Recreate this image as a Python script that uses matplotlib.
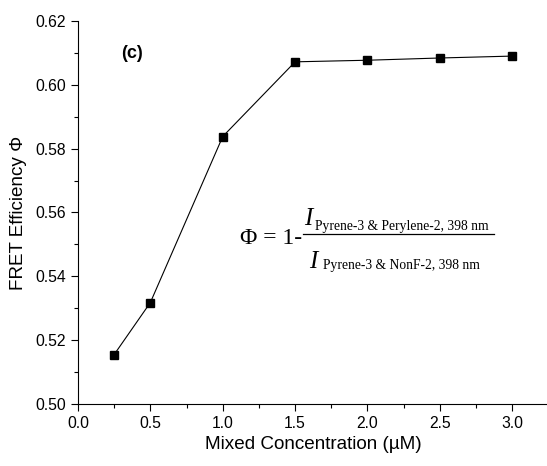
import matplotlib.pyplot as plt
from matplotlib.ticker import MultipleLocator

# FRET efficiency vs mixed concentration
conc = [0.25, 0.5, 1.0, 1.5, 2.0, 2.5, 3.0]
phi = [0.5155, 0.5318, 0.5838, 0.6072, 0.6077, 0.6084, 0.6090]

plt.rcParams['font.family'] = ['Liberation Sans', 'DejaVu Sans']

fig = plt.figure(figsize=(5.47, 4.66), dpi=100)
ax = fig.add_axes([0.1426, 0.133, 0.86, 0.822])

ax.plot(conc, phi, color='black', lw=0.8, marker='s', ms=5.2, mfc='black')

ax.set_xlim(0, 3.25)
ax.set_ylim(0.50, 0.62)
ax.xaxis.set_major_locator(MultipleLocator(0.5))
ax.xaxis.set_minor_locator(MultipleLocator(0.25))
ax.yaxis.set_major_locator(MultipleLocator(0.02))
ax.yaxis.set_minor_locator(MultipleLocator(0.01))
ax.xaxis.set_major_formatter(lambda v, p: f'{v:.1f}')
ax.yaxis.set_major_formatter(lambda v, p: f'{v:.2f}')
ax.tick_params(which='major', direction='out', length=5, width=0.8, labelsize=11.3)
ax.tick_params(which='minor', direction='out', length=3, width=0.8)
ax.spines['top'].set_visible(False)
ax.spines['right'].set_visible(False)

ax.set_xlabel('Mixed Concentration (\u00b5M)', fontsize=13.6)
ax.set_ylabel('FRET Efficiency \u03a6', fontsize=13.6, labelpad=6)

ax.text(0.092, 0.916, '(c)', transform=ax.transAxes, fontsize=13, fontweight='bold',
        ha='left', va='center')

# equation drawn in figure pixel coordinates
W, H = 547, 466
def px(x, y):
    return x / W, 1 - y / H

serif = 'Liberation Serif'
fig.text(*px(240, 238), '\u03a6 = 1-', family=serif, fontsize=17, va='center', ha='left')
fig.add_artist(plt.Line2D([303 / W, 494 / W], [1 - 234 / H, 1 - 234 / H],
                          color='black', lw=0.9, transform=fig.transFigure))
fig.text(*px(304, 219), 'I', family=serif, style='italic', fontsize=18, va='center', ha='left')
fig.text(*px(315, 227), 'Pyrene-3 & Perylene-2, 398 nm', family=serif, fontsize=9.8,
         va='center', ha='left')
fig.text(*px(309, 262), 'I', family=serif, style='italic', fontsize=18, va='center', ha='left')
fig.text(*px(323, 266), 'Pyrene-3 & NonF-2, 398 nm', family=serif, fontsize=9.8,
         va='center', ha='left')

fig.savefig('out.png', dpi=100)
